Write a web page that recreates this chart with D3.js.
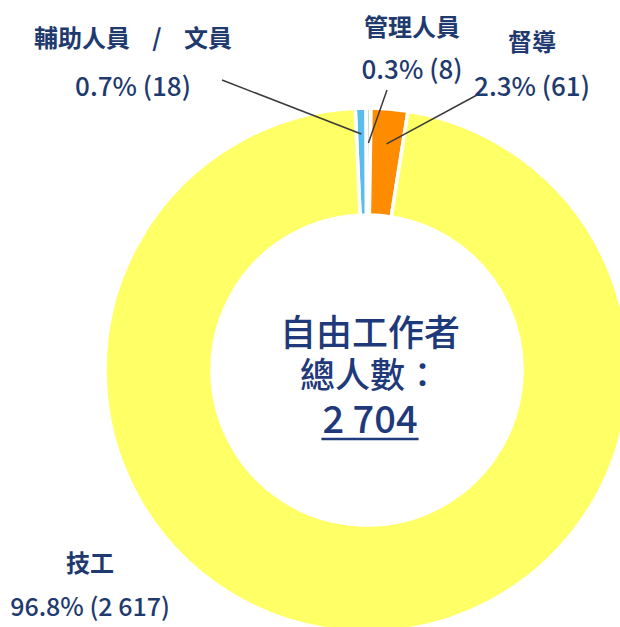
<!DOCTYPE html>
<html>
<head>
<meta charset="utf-8">
<script src="https://cdn.jsdelivr.net/npm/d3@7"></script>
<style>
  body { margin: 0; background: #fff; }
  text { font-family: "Noto Sans CJK TC", "Noto Sans", sans-serif; }
</style>
</head>
<body>
<div id="chart"></div>
<script>
// freelancer headcount by role
var roles = ["輔助人員 / 文員", "管理人員", "督導", "技工"];
var counts = [18, 8, 61, 2617];
var percents = ["0.7%", "0.3%", "2.3%", "96.8%"];
var countLabels = ["18", "8", "61", "2 617"];
var total = "2 704";
var colors = ["#5bbdee", "#c9dcc4", "#ff8c00", "#ffff66"];

var width = 620, height = 627;
var cx = 367, cy = 370;
var outerR = 262, innerR = 155;

// label anchors: name baseline, value baseline, leader line start
var labelPos = [
  {x: 133, y: 47, vy: 96, x2: 222, y2: 80},
  {x: 412, y: 36, vy: 79, x2: 387, y2: 90},
  {x: 532, y: 51, vy: 96, x2: 477, y2: 95},
  {x: 90, y: 572, vy: 616, x2: null, y2: null}
];

var svg = d3.select("#chart")
  .append("svg")
    .attr("width", width)
    .attr("height", height);

var g = svg.append("g")
    .attr("transform", "translate(" + cx + "," + cy + ")");

var data = roles.map(function(r, i) {
  return {role: r, value: counts[i], pct: percents[i], label: countLabels[i], color: colors[i], pos: labelPos[i]};
});

var startA = -0.045;
var pie = d3.pie()
    .sort(null)
    .value(function(d) { return d.value; })
    .startAngle(startA)
    .endAngle(startA + 2 * Math.PI);

var arc = d3.arc()
    .innerRadius(innerR)
    .outerRadius(outerR);

var arcs = pie(data);

g.selectAll("path.slice")
    .data(arcs)
  .enter().append("path")
    .attr("class", "slice")
    .attr("d", arc)
    .attr("fill", function(d) { return d.data.color; })
    .attr("stroke", "#fff")
    .attr("stroke-width", 3.5);

// leader lines
var leaderR = [236, 227, 227];
arcs.forEach(function(d, i) {
  var p = d.data.pos;
  if (p.x2 === null) return;
  var a = (d.startAngle + d.endAngle) / 2;
  var r = leaderR[i];
  svg.append("line")
    .attr("x1", p.x2)
    .attr("y1", p.y2)
    .attr("x2", cx + r * Math.sin(a))
    .attr("y2", cy - r * Math.cos(a))
    .attr("stroke", "#3a3a3a")
    .attr("stroke-width", 1.5);
});

// category labels
var labels = svg.selectAll("g.lbl")
    .data(data)
  .enter().append("g")
    .attr("class", "lbl")
    .attr("transform", function(d) { return "translate(" + d.pos.x + ",0)"; });

labels.append("text")
    .attr("text-anchor", "middle")
    .attr("y", function(d) { return d.pos.y; })
    .attr("font-size", 24)
    .attr("font-weight", 700)
    .style("word-spacing", "17px")
    .attr("fill", "#1f3a6e")
    .text(function(d) { return d.role; });

labels.append("text")
    .attr("text-anchor", "middle")
    .attr("y", function(d) { return d.pos.vy; })
    .attr("font-size", function(d, i) { return i === 3 ? 25 : 26; })
    .attr("font-weight", 500)
    .attr("fill", "#1f3a6e")
    .text(function(d) { return d.pct + " (" + d.label + ")"; });

// centre text
var center = svg.append("g")
    .attr("transform", "translate(" + (cx + 3) + "," + cy + ")");

center.append("text")
    .attr("text-anchor", "middle")
    .attr("y", -24)
    .attr("font-size", 36)
    .attr("font-weight", 500)
    .attr("fill", "#1f3a7a")
    .text("自由工作者");

center.append("text")
    .attr("text-anchor", "middle")
    .attr("y", 18)
    .attr("font-size", 35)
    .attr("font-weight", 500)
    .attr("fill", "#1f3a7a")
    .text("總人數：");

var totalText = center.append("text")
    .attr("text-anchor", "middle")
    .attr("y", 63)
    .attr("font-size", 38)
    .attr("font-weight", 500)
    .attr("fill", "#1f3a7a")
    .text(total);

var bb = totalText.node().getBBox();
center.append("line")
    .attr("x1", bb.x - 1)
    .attr("x2", bb.x + bb.width + 1)
    .attr("y1", 69)
    .attr("y2", 69)
    .attr("stroke", "#1f3a7a")
    .attr("stroke-width", 2.5);
</script>
</body>
</html>
